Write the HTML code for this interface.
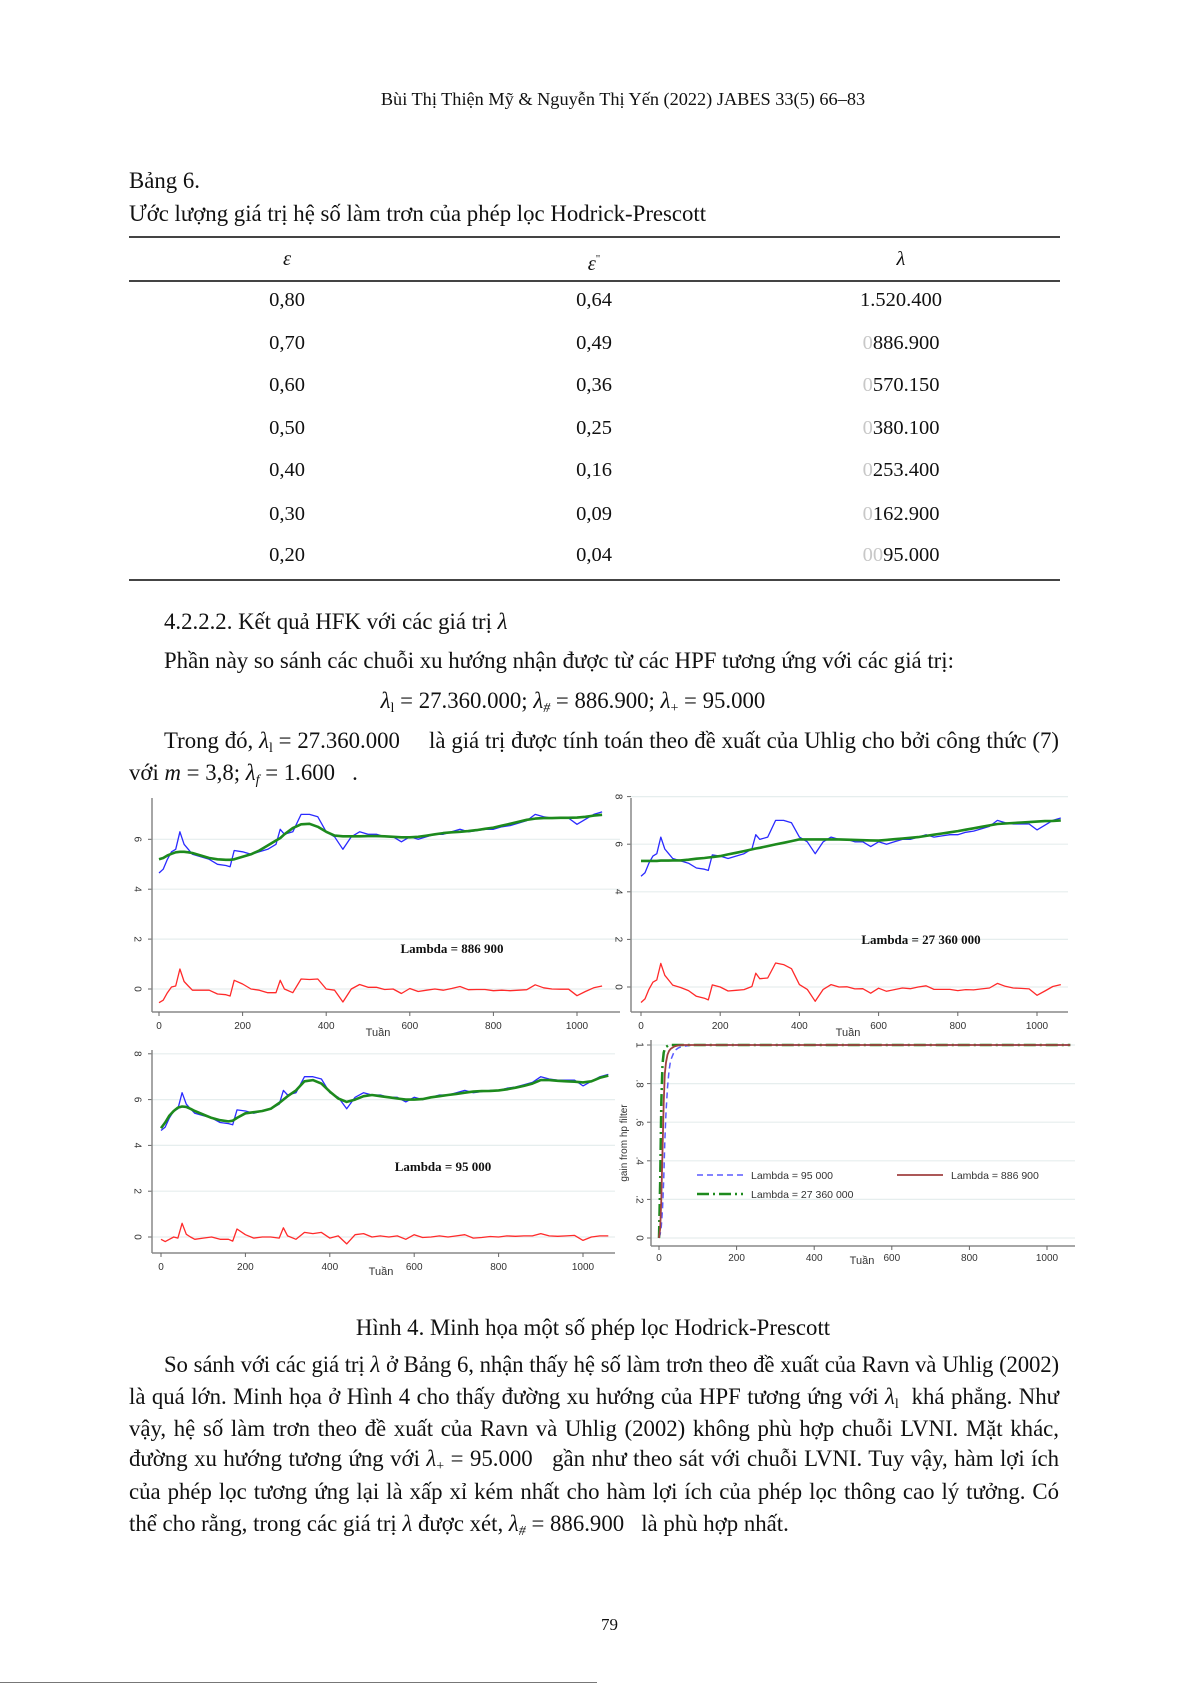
<!DOCTYPE html>
<html><head><meta charset="utf-8">
<style>
body{margin:0;background:#fff;}
#page{position:relative;width:1191px;height:1685px;overflow:hidden;font-family:"Liberation Serif",serif;color:#111;}
.t{position:absolute;white-space:nowrap;font-size:22.8px;line-height:30px;}
.j{text-align:justify;text-align-last:justify;white-space:nowrap;}
.tc{position:absolute;font-size:20.5px;line-height:26px;text-align:center;width:200px;}
.g{color:#c8c8c8;}
i{font-style:italic;}
sub{font-size:14px;vertical-align:-4px;line-height:0;}
.hr{position:absolute;left:129px;width:931px;background:#444;}
</style></head><body>
<div id="page">
<div class="t" style="left:0;width:1246px;text-align:center;top:84px;font-size:18.3px;">Bùi Thị Thiện Mỹ &amp; Nguyễn Thị Yến (2022) JABES 33(5) 66–83</div>
<div class="t" style="left:129px;top:166px;">Bảng 6.</div>
<div class="t" style="left:129px;top:199px;">Ước lượng giá trị hệ số làm trơn của phép lọc Hodrick-Prescott</div>
<div class="hr" style="top:236px;height:2px;"></div>
<div class="hr" style="top:280px;height:2px;"></div>
<div class="hr" style="top:579px;height:2px;"></div>
<div id="tbl"></div>
<div class="t" style="left:164px;top:607px;">4.2.2.2. Kết quả HFK với các giá trị <i>λ</i></div>
<div class="t" style="left:164px;top:646px;">Phần này so sánh các chuỗi xu hướng nhận được từ các HPF tương ứng với các giá trị:</div>
<div class="t" style="left:0;width:1146px;text-align:center;top:686px;"><i>λ</i><sub>l</sub> = 27.360.000; <i>λ</i><sub><i>#</i></sub> = 886.900; <i>λ</i><sub>+</sub> = 95.000</div>
<div class="t j" style="left:164px;width:895px;top:726px;">Trong đó, <i>λ</i><sub>l</sub> = 27.360.000 &nbsp;&nbsp;&nbsp; là giá trị được tính toán theo đề xuất của Uhlig cho bởi công thức (7)</div>
<div class="t" style="left:129px;top:758px;">với <i>m</i> = 3,8; <i>λ</i><sub><i>f</i></sub> = 1.600 &nbsp;&nbsp;.</div>
<svg id="charts" width="1191" height="1685" style="position:absolute;left:0;top:0;font-family:'Liberation Sans',sans-serif;"></svg>
<div class="t" style="left:0;width:1186px;text-align:center;top:1313px;">Hình 4. Minh họa một số phép lọc Hodrick-Prescott</div>
<div class="t j" style="left:164px;width:895px;top:1350px;letter-spacing:-0.15px;">So sánh với các giá trị <i>λ</i> ở Bảng 6, nhận thấy hệ số làm trơn theo đề xuất của Ravn và Uhlig (2002)</div>
<div class="t j" style="left:129px;width:930px;top:1382px;">là quá lớn. Minh họa ở Hình 4 cho thấy đường xu hướng của HPF tương ứng với <i>λ</i><sub>l</sub> &nbsp;khá phẳng. Như</div>
<div class="t j" style="left:129px;width:930px;top:1414px;">vậy, hệ số làm trơn theo đề xuất của Ravn và Uhlig (2002) không phù hợp chuỗi LVNI. Mặt khác,</div>
<div class="t j" style="left:129px;width:930px;top:1444px;">đường xu hướng tương ứng với <i>λ</i><sub>+</sub> = 95.000 &nbsp;&nbsp;gần như theo sát với chuỗi LVNI. Tuy vậy, hàm lợi ích</div>
<div class="t j" style="left:129px;width:930px;top:1477px;">của phép lọc tương ứng lại là xấp xỉ kém nhất cho hàm lợi ích của phép lọc thông cao lý tưởng. Có</div>
<div class="t" style="left:129px;top:1509px;">thể cho rằng, trong các giá trị <i>λ</i> được xét, <i>λ</i><sub><i>#</i></sub> = 886.900 &nbsp;&nbsp;là phù hợp nhất.</div>
<div class="t" style="left:601px;top:1610px;font-size:17px;">79</div>
<div style="position:absolute;left:0;top:1682px;width:597px;height:1px;background:#777;"></div>
</div>
<script>
// ---- table data ----
const epsVals=["0,80","0,70","0,60","0,50","0,40","0,30","0,20"];
const eps2Vals=["0,64","0,49","0,36","0,25","0,16","0,09","0,04"];
const lamPrefix=["","0","0","0","0","0","00"];
const lamVals=["1.520.400","886.900","570.150","380.100","253.400","162.900","95.000"];
const rowY=[300,343,385,428,470,514,555];
(function(){
 const t=document.getElementById('tbl');
 const heads=[["<i>ε</i>",287],["<i>ε</i><sup style='font-size:11px'>\"</sup>",594],["<i>λ</i>",901]];
 heads.forEach((h,i)=>{const d=document.createElement('div');d.className='tc';d.style.left=(h[1]-100)+'px';d.style.top='246px';d.innerHTML=h[0];
  
  
  t.appendChild(d);});
 epsVals.forEach((e,i)=>{
  const cells=[e,eps2Vals[i],"<span class='g'>"+lamPrefix[i]+"</span>"+lamVals[i]];
  [287,594,901].forEach((cx,k)=>{const d=document.createElement('div');d.className='tc';d.style.left=(cx-100)+'px';d.style.top=(rowY[i]-13)+'px';d.innerHTML=cells[k];
   
   
   t.appendChild(d);});
 });
})();

// ---- chart data ----
const weeks=[0,10,20,30,40,50,60,70,80,100,120,140,160,170,180,200,220,240,260,280,290,300,320,340,360,380,400,420,440,460,480,500,520,540,560,580,600,620,640,660,680,700,720,740,760,780,800,820,840,860,880,900,920,940,960,980,1000,1020,1040,1060];
const lvni=[4.65,4.8,5.2,5.5,5.6,6.3,5.8,5.6,5.4,5.3,5.2,5.0,4.95,4.9,5.55,5.5,5.4,5.5,5.6,5.8,6.4,6.2,6.3,7.0,7.0,6.9,6.3,6.1,5.6,6.1,6.3,6.2,6.2,6.1,6.1,5.9,6.1,6.0,6.1,6.2,6.2,6.3,6.4,6.3,6.35,6.4,6.4,6.5,6.55,6.65,6.75,7.0,6.9,6.85,6.85,6.85,6.6,6.8,7.0,7.1];
const trend886=[5.2,5.25,5.35,5.42,5.48,5.5,5.5,5.48,5.45,5.35,5.25,5.2,5.18,5.18,5.2,5.3,5.4,5.55,5.75,5.95,6.05,6.2,6.45,6.6,6.62,6.5,6.3,6.15,6.12,6.12,6.12,6.13,6.13,6.12,6.1,6.08,6.08,6.1,6.15,6.2,6.25,6.28,6.3,6.33,6.37,6.42,6.47,6.55,6.62,6.7,6.78,6.83,6.85,6.85,6.86,6.86,6.87,6.9,6.95,6.98];
const cycle886=[-0.55,-0.45,-0.15,0.08,0.12,0.8,0.3,0.12,-0.05,-0.05,-0.05,-0.2,-0.23,-0.28,0.35,0.2,0.0,-0.05,-0.15,-0.15,0.35,0.0,-0.15,0.4,0.38,0.4,0.0,-0.05,-0.52,0.0,0.18,0.07,0.07,-0.02,0.0,-0.18,0.02,-0.1,-0.05,0.0,-0.05,0.02,0.1,-0.03,-0.02,-0.02,-0.07,-0.05,-0.07,-0.05,-0.03,0.17,0.05,0.0,-0.01,-0.01,-0.27,-0.1,0.05,0.12];
const trend27=[5.3,5.3,5.3,5.3,5.3,5.31,5.31,5.31,5.32,5.32,5.35,5.39,5.42,5.44,5.46,5.5,5.57,5.64,5.71,5.78,5.82,5.85,5.92,5.99,6.06,6.13,6.2,6.2,6.2,6.2,6.2,6.2,6.19,6.18,6.17,6.16,6.15,6.18,6.21,6.24,6.27,6.3,6.35,6.4,6.45,6.5,6.55,6.61,6.67,6.73,6.79,6.85,6.87,6.89,6.91,6.93,6.95,6.97,6.98,7.0];
const cycle27=[-0.65,-0.5,-0.1,0.2,0.3,0.99,0.49,0.29,0.08,-0.02,-0.15,-0.39,-0.47,-0.54,0.09,0.0,-0.17,-0.14,-0.11,0.02,0.58,0.35,0.38,1.01,0.94,0.77,0.1,-0.1,-0.6,-0.1,0.1,0.0,0.01,-0.08,-0.07,-0.26,-0.05,-0.18,-0.11,-0.04,-0.07,0.0,0.05,-0.1,-0.1,-0.1,-0.15,-0.11,-0.12,-0.08,-0.04,0.15,0.03,-0.04,-0.06,-0.08,-0.35,-0.17,0.02,0.1];
const trend95=[4.75,5.0,5.3,5.5,5.65,5.7,5.68,5.6,5.5,5.35,5.2,5.1,5.05,5.08,5.2,5.4,5.45,5.5,5.6,5.85,6.0,6.15,6.4,6.8,6.85,6.7,6.35,6.05,5.9,6.0,6.15,6.2,6.15,6.1,6.05,6.0,6.0,6.02,6.1,6.15,6.2,6.25,6.3,6.35,6.37,6.38,6.4,6.45,6.52,6.6,6.7,6.85,6.85,6.82,6.8,6.78,6.75,6.8,6.95,7.05];
const cycle95=[-0.1,-0.2,-0.1,0.0,-0.05,0.6,0.12,0.0,-0.1,-0.05,0.0,-0.1,-0.1,-0.18,0.35,0.1,-0.05,0.0,0.0,-0.05,0.4,0.05,-0.1,0.2,0.15,0.2,-0.05,0.05,-0.3,0.1,0.15,0.0,0.05,0.0,0.05,-0.1,0.1,-0.02,0.0,0.05,0.0,0.05,0.1,-0.05,-0.02,0.02,0.0,0.05,0.03,0.05,0.05,0.15,0.05,0.03,0.05,0.07,-0.15,0.0,0.05,0.05];
const gainWeeks=[0,3,6,9,12,15,18,22,26,30,40,50,60,80,100,1060];
const gain95=[0,0.02,0.06,0.15,0.3,0.5,0.65,0.78,0.87,0.92,0.97,0.985,0.993,0.998,1,1];
const gain886=[0,0.05,0.2,0.45,0.7,0.85,0.91,0.95,0.97,0.98,0.993,0.998,1,1,1,1];
const gain27=[0,0.3,0.7,0.9,0.96,0.98,0.99,0.995,1,1,1,1,1,1,1,1];
const xTicks=[0,200,400,600,800,1000];
const yTicksLvl=[0,2,4,6,8];
const yTicksGain=[0,0.2,0.4,0.6,0.8,1];
const yTickGainLabels=["0",".2",".4",".6",".8","1"];

const NS="http://www.w3.org/2000/svg";
const svg=document.getElementById('charts');
function el(tag,attrs,parent){const e=document.createElementNS(NS,tag);for(const k in attrs)e.setAttribute(k,attrs[k]);(parent||svg).appendChild(e);return e;}
function makeScales(p){return {x:w=>p.x0+w*p.xs, y:v=>p.y0-v*p.ys};}
function panel(p,name){
 const g=el('g',{});
 
 
 const s=makeScales(p);
 p.yticks.forEach((v,i)=>{const y=s.y(v);
  const gl=el('line',{x1:p.left,x2:p.right,y1:y,y2:y,stroke:'#e6eeee','stroke-width':1.2},g);
  
  
  el('line',{x1:p.left-4,x2:p.left,y1:y,y2:y,stroke:'#666'},g);
  const t=el('text',{x:p.lx,y:y,'font-size':10,fill:'#333','text-anchor':'middle',transform:`rotate(90 ${p.lx} ${y})`,'dominant-baseline':'middle'},g);
  t.textContent=p.ylabels?p.ylabels[i]:String(v);
  
  
 });
 const ax=el('line',{x1:p.left,x2:p.left,y1:p.top,y2:p.bottom,stroke:'#888','stroke-width':1.5},g);
 
 
 const bx=el('line',{x1:p.left,x2:p.right,y1:p.bottom,y2:p.bottom,stroke:'#888','stroke-width':1.5},g);
 
 
 xTicks.forEach(v=>{const x=s.x(v);
  el('line',{x1:x,x2:x,y1:p.bottom,y2:p.bottom+4,stroke:'#666'},g);
  const t=el('text',{x:x,y:p.tly,'font-size':10,fill:'#333','text-anchor':'middle'},g);
  t.textContent=String(v);
  
  
 });
 const tt=el('text',{x:p.tx,y:p.ty,'font-size':11,fill:'#333','text-anchor':'middle'},g);
 tt.textContent='Tuần';
 
 
 return {g,s};
}
function line(g,s,xs,ys,color,w,name,dash){
 const d=xs.map((x,i)=>(i?'L':'M')+s.x(x).toFixed(1)+' '+s.y(ys[i]).toFixed(1)).join(' ');
 const p=el('path',{d:d,fill:'none',stroke:color,'stroke-width':w,'stroke-linejoin':'round'},g);
 if(dash)p.setAttribute('stroke-dasharray',dash);
 
 
}
function label(g,x,y,txt){
 const t=el('text',{x:x,y:y,'font-size':13,'font-weight':'bold','font-family':'Liberation Serif, serif','text-anchor':'middle',fill:'#111'},g);
 t.textContent=txt;
 
 
}
// top-left
let P={x0:159,xs:0.418,y0:989,ys:24.95,left:152,right:620,top:798,bottom:1012,yticks:[0,2,4,6],lx:137,tly:1029,tx:378,ty:1036};
let r=panel(P,'panel-lambda-886900');
line(r.g,r.s,weeks,lvni,'#2a2aff',1.3,'series-lvni');
line(r.g,r.s,weeks,trend886,'#1d8a1d',2.6,'trend-886900');
line(r.g,r.s,weeks,cycle886,'#ff2a2a',1.3,'cycle-886900');
label(r.g,452,953,'Lambda = 886 900');
// top-right
P={x0:641,xs:0.396,y0:987,ys:23.8,left:631,right:1068,top:798,bottom:1012,yticks:yTicksLvl,lx:618,tly:1029,tx:848,ty:1036};
r=panel(P,'panel-lambda-27360000');
line(r.g,r.s,weeks,lvni,'#2a2aff',1.3,'series-lvni');
line(r.g,r.s,weeks,trend27,'#1d8a1d',2.6,'trend-27360000');
line(r.g,r.s,weeks,cycle27,'#ff2a2a',1.3,'cycle-27360000');
label(r.g,921,944,'Lambda = 27 360 000');
// bottom-left
P={x0:161,xs:0.422,y0:1237,ys:22.9,left:152,right:615,top:1050,bottom:1253,yticks:yTicksLvl,lx:137,tly:1270,tx:381,ty:1275};
r=panel(P,'panel-lambda-95000');
line(r.g,r.s,weeks,lvni,'#2a2aff',1.3,'series-lvni');
line(r.g,r.s,weeks,trend95,'#1d8a1d',2.6,'trend-95000');
line(r.g,r.s,weeks,cycle95,'#ff2a2a',1.3,'cycle-95000');
label(r.g,443,1171,'Lambda = 95 000');
// bottom-right gain
P={x0:659,xs:0.388,y0:1238,ys:193,left:651,right:1075,top:1040,bottom:1246,yticks:yTicksGain,ylabels:yTickGainLabels,lx:639,tly:1261,tx:862,ty:1264};
r=panel(P,'panel-gain');
line(r.g,r.s,gainWeeks,gain95,'#5a5aff',1.5,'gain-95000','6 4');
line(r.g,r.s,gainWeeks,gain27,'#1d8a1d',2.5,'gain-27360000','12 4 2 4');
line(r.g,r.s,gainWeeks,gain886,'#a04040',1.8,'gain-886900');
const yt=el('text',{x:627,y:1143,'font-size':10,fill:'#333','text-anchor':'middle',transform:'rotate(-90 627 1143)'},r.g);
yt.textContent='gain from hp filter';


const legend=[[697,1175,'#5a5aff','6 4',1.5,'Lambda = 95 000'],[897,1175,'#a04040','',1.8,'Lambda = 886 900'],[697,1194,'#1d8a1d','12 4 2 4',2.5,'Lambda = 27 360 000']];
legend.forEach(l=>{
 const lg=el('g',{},r.g);
 
 
 const ln=el('line',{x1:l[0],x2:l[0]+46,y1:l[1],y2:l[1],stroke:l[2],'stroke-width':l[4]},lg);
 if(l[3])ln.setAttribute('stroke-dasharray',l[3]);
 const t=el('text',{x:l[0]+54,y:l[1]+4,'font-size':10.5,fill:'#333'},lg);
 t.textContent=l[5];
});
</script>
</body></html>
